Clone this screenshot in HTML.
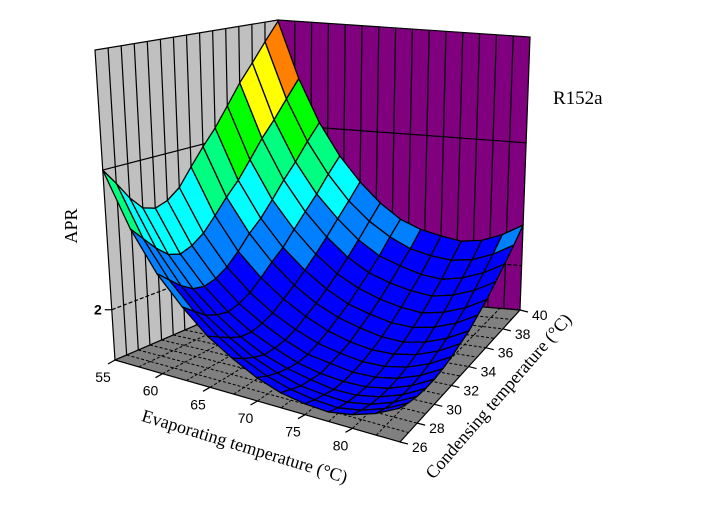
<!DOCTYPE html>
<html><head><meta charset="utf-8"><style>
html,body{margin:0;padding:0;background:#fff;}
svg{display:block;}
</style></head><body>
<svg id="chart" width="710" height="508" viewBox="0 0 710 508" xmlns="http://www.w3.org/2000/svg">
<g id="walls"></g>
<g id="surface"></g>
<g id="axes"></g>
<text x="553" y="104" font-family="Liberation Serif, serif" font-size="19">R152a</text>
<text transform="translate(77,226) rotate(-90)" text-anchor="middle" font-family="Liberation Serif, serif" font-size="18">APR</text>
<text transform="translate(243,452) rotate(17)" text-anchor="middle" font-family="Liberation Serif, serif" font-size="18">Evaporating temperature (°C)</text>
<text transform="translate(503,400) rotate(-49)" text-anchor="middle" font-family="Liberation Serif, serif" font-size="18">Condensing temperature (°C)</text>
</svg>
<script>
const evapValues=[55,57.5,60,62.5,65,67.5,70,72.5,75,77.5,80,82.5,85];
const condValues=[26,27,28,29,30,31,32,33,34,35,36,37,38,39,40];
const aprValues=[
[3.00,2.63,2.36,2.17,2.01,1.90,1.81,1.75,1.72,1.71,1.74,1.80,1.89],
[2.88,2.53,2.28,2.10,1.96,1.85,1.77,1.72,1.69,1.68,1.71,1.77,1.86],
[2.75,2.43,2.20,2.03,1.91,1.81,1.74,1.69,1.67,1.66,1.69,1.75,1.84],
[2.65,2.35,2.14,1.99,1.87,1.78,1.72,1.68,1.65,1.65,1.68,1.74,1.83],
[2.62,2.32,2.12,1.97,1.86,1.78,1.71,1.67,1.65,1.65,1.68,1.74,1.83],
[2.65,2.35,2.14,1.99,1.88,1.79,1.72,1.69,1.66,1.66,1.69,1.75,1.84],
[2.72,2.41,2.19,2.03,1.91,1.82,1.75,1.71,1.68,1.68,1.71,1.77,1.86],
[2.85,2.51,2.27,2.10,1.97,1.87,1.79,1.74,1.71,1.71,1.74,1.80,1.89],
[2.98,2.62,2.37,2.18,2.03,1.92,1.84,1.79,1.75,1.74,1.77,1.83,1.92],
[3.10,2.72,2.45,2.25,2.10,1.98,1.89,1.84,1.80,1.79,1.82,1.88,1.97],
[3.25,2.85,2.56,2.35,2.18,2.05,1.96,1.90,1.86,1.84,1.87,1.93,2.02],
[3.41,2.99,2.68,2.45,2.27,2.13,2.03,1.97,1.93,1.91,1.94,2.00,2.09],
[3.55,3.11,2.79,2.55,2.37,2.22,2.11,2.05,2.00,1.98,2.01,2.07,2.16],
[3.70,3.25,2.92,2.67,2.47,2.32,2.21,2.13,2.09,2.07,2.09,2.15,2.24],
[3.85,3.39,3.04,2.78,2.58,2.42,2.30,2.23,2.19,2.16,2.18,2.24,2.33]];
const evapTicks=[55,60,65,70,75,80];
const condTicks=[26,28,30,32,34,36,38,40];
const zTicks=[2];
const bandLevels=[2.2,2.45,2.7,2.95,3.25,3.5,3.7];
const bandColors=["#0000ff","#0080ff","#00ffff","#00ff80","#00ff00","#ffff00","#ff8000","#ff0000"];

const E0=55,E1=85,C0=26,C1=40,Z0=1.64,Z1=3.86;
const B={a:[115,360],b:[400,442],c:[520,310],d:[278,290]};
const T={a:[95,50],b:[396,142],c:[530,37],d:[278,20]};
function bil(P,u,v,k){return (1-u)*(1-v)*P.a[k]+u*(1-v)*P.b[k]+u*v*P.c[k]+(1-u)*v*P.d[k];}
function proj(e,c,z){const u=(e-E0)/(E1-E0),v=(c-C0)/(C1-C0),w=(z-Z0)/(Z1-Z0);
 return [bil(B,u,v,0)*(1-w)+bil(T,u,v,0)*w, bil(B,u,v,1)*(1-w)+bil(T,u,v,1)*w];}
const NS="http://www.w3.org/2000/svg";
function mk(tag,attrs,parent){const el=document.createElementNS(NS,tag);for(const k in attrs)el.setAttribute(k,attrs[k]);parent.appendChild(el);return el;}
function pts(a){return a.map(p=>p[0].toFixed(1)+","+p[1].toFixed(1)).join(" ");}
const walls=document.getElementById("walls"),surf=document.getElementById("surface"),axes=document.getElementById("axes");

let el=mk("polygon",{points:pts([proj(E0,C0,Z0),proj(E0,C1,Z0),proj(E0,C1,Z1),proj(E0,C0,Z1)]),fill:"#c0c0c0",stroke:"#000","stroke-width":1.2},walls);


el=mk("polygon",{points:pts([proj(E0,C1,Z0),proj(E1,C1,Z0),proj(E1,C1,Z1),proj(E0,C1,Z1)]),fill:"#800080",stroke:"#000","stroke-width":1.2},walls);


el=mk("polygon",{points:pts([proj(E0,C0,Z0),proj(E1,C0,Z0),proj(E1,C1,Z0),proj(E0,C1,Z0)]),fill:"#808080",stroke:"#000","stroke-width":1.2},walls);


for(let c=C0+1;c<C1;c++){const p=proj(E0,c,Z0),q=proj(E0,c,Z1);
 el=mk("line",{x1:p[0],y1:p[1],x2:q[0],y2:q[1],stroke:"#000","stroke-width":1.2},walls);
 
 }
for(let e=E0+2;e<E1;e+=2){const p=proj(e,C1,Z0),q=proj(e,C1,Z1);
 el=mk("line",{x1:p[0],y1:p[1],x2:q[0],y2:q[1],stroke:"#000","stroke-width":1.2},walls);
 
 }
[2,3].forEach(z=>{const a=proj(E0,C0,z),b=proj(E0,C1,z),c=proj(E1,C1,z);
 el=mk("polyline",{points:pts([a,b,c]),fill:"none",stroke:"#000","stroke-width":1.2,"stroke-dasharray":z==2?"4,2":"none"},walls);
 
 });
for(let e=E0+2.5;e<E1;e+=2.5){const p=proj(e,C0,Z0),q=proj(e,C1,Z0);
 el=mk("line",{x1:p[0],y1:p[1],x2:q[0],y2:q[1],stroke:"#000","stroke-width":1,"stroke-dasharray":"3,2"},walls);
 
 }
for(let c=C0+1;c<C1;c+=1){const p=proj(E0,c,Z0),q=proj(E1,c,Z0);
 el=mk("line",{x1:p[0],y1:p[1],x2:q[0],y2:q[1],stroke:"#000","stroke-width":1,"stroke-dasharray":"3,2"},walls);
 
 }

function colorFor(z){let k=0;while(k<bandLevels.length&&z>=bandLevels[k])k++;return bandColors[k];}
const cells=[];
for(let j=0;j<condValues.length-1;j++)for(let i=0;i<evapValues.length-1;i++){
 const z=[aprValues[j][i],aprValues[j][i+1],aprValues[j+1][i+1],aprValues[j+1][i]];
 const u=(i+0.5)/(evapValues.length-1),v=(j+0.5)/(condValues.length-1);
 cells.push({i,j,z,d:u-v});}
cells.sort((a,b)=>a.d-b.d);
cells.forEach(cl=>{const i=cl.i,j=cl.j,z=cl.z;
 const P=[proj(evapValues[i],condValues[j],z[0]),proj(evapValues[i+1],condValues[j],z[1]),proj(evapValues[i+1],condValues[j+1],z[2]),proj(evapValues[i],condValues[j+1],z[3])];
 const avg=(z[0]+z[1]+z[2]+z[3])/4;
 const p=mk("polygon",{points:pts(P),fill:colorFor(avg),stroke:"#000","stroke-width":1.3,"stroke-linejoin":"round"},surf);
 
 });

evapTicks.forEach(e=>{const p=proj(e,C0,Z0);
 let t=mk("line",{x1:p[0],y1:p[1],x2:p[0]-7,y2:p[1]+4,stroke:"#000","stroke-width":1.2},axes);
 
 
 t=mk("text",{x:p[0]-12,y:p[1]+22,"text-anchor":"middle","font-family":"Liberation Sans, sans-serif","font-size":14},axes);
 t.textContent=e;
 
 });
condTicks.forEach(c=>{const p=proj(E1,c,Z0);
 let t=mk("line",{x1:p[0],y1:p[1],x2:p[0]+8,y2:p[1]+2,stroke:"#000","stroke-width":1.2},axes);
 
 
 t=mk("text",{x:p[0]+12,y:p[1]+10,"font-family":"Liberation Sans, sans-serif","font-size":14},axes);
 t.textContent=c;
 
 });
zTicks.forEach(z=>{const p=proj(E0,C0,z);
 let t=mk("line",{x1:p[0],y1:p[1],x2:p[0]-7,y2:p[1],stroke:"#000","stroke-width":1.2},axes);
 
 
 t=mk("text",{x:p[0]-10,y:p[1]+5,"text-anchor":"end","font-weight":"bold","font-family":"Liberation Sans, sans-serif","font-size":14},axes);
 t.textContent=z;
 
 });
</script>
</body></html>
